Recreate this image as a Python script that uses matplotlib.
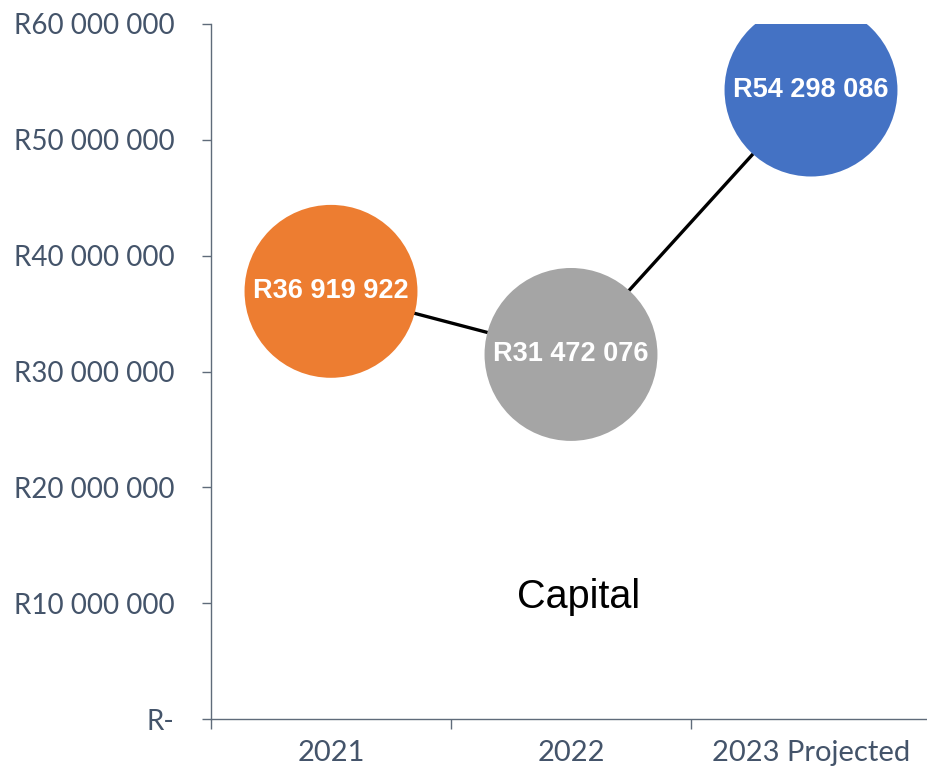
import matplotlib
matplotlib.use("Agg")
import matplotlib.pyplot as plt
from matplotlib.ticker import FuncFormatter, FixedLocator

categories = ["2021", "2022", "2023 Projected"]
values = [36919922, 31472076, 54298086]
colors = ["#ED7D31", "#A5A5A5", "#4472C4"]
y_ticks = [0, 10000000, 20000000, 30000000, 40000000, 50000000, 60000000]
title = "Capital"

TICK_COLOR = "#44546A"
AXIS_COLOR = "#5F6B7A"

fig = plt.figure(figsize=(9.28, 7.7), dpi=100)
ax = fig.add_axes([211/928, 51/770, 720/928, 695/770])

x = list(range(len(categories)))
ax.plot(x, values, color="black", lw=2.4, zorder=1, solid_capstyle="butt")
ax.scatter(x, values, s=15500, c=colors, zorder=2, linewidths=0)

for xi, v in zip(x, values):
    ax.text(xi, v, "R" + f"{v:,}".replace(",", " "), ha="center", va="center",
            color="white", fontsize=19.5, fontweight="bold",
            family=["Liberation Sans", "DejaVu Sans"], zorder=3)

ax.text(1.033, 9.6e6, title, ha="center", va="baseline", fontsize=28.5,
        family=["Liberation Sans", "DejaVu Sans"], color="black")

ax.set_xlim(-0.5, 2.5)
ax.set_ylim(0, 60000000)

def yfmt(v, pos):
    if v == 0:
        return "R-"
    return "R" + f"{int(v):,}".replace(",", " ")

ax.yaxis.set_major_locator(FixedLocator(y_ticks))
ax.yaxis.set_major_formatter(FuncFormatter(yfmt))
ax.set_xticks(x)
ax.set_xticklabels(categories)
ax.set_xticks([-0.5, 0.5, 1.5, 2.5], minor=True)

for s in ["top", "right"]:
    ax.spines[s].set_visible(False)
for s in ["left", "bottom"]:
    ax.spines[s].set_color(AXIS_COLOR)
    ax.spines[s].set_linewidth(1.0)

ax.tick_params(axis="y", length=6.5, width=1.0, color=AXIS_COLOR, pad=20,
               labelsize=20, labelcolor=TICK_COLOR)
ax.tick_params(axis="x", which="major", length=0, pad=15, labelsize=21, labelcolor=TICK_COLOR)
ax.tick_params(axis="x", which="minor", length=7.5, width=1.0, color=AXIS_COLOR)

for lab in ax.get_yticklabels() + ax.get_xticklabels():
    lab.set_family(["Lato", "DejaVu Sans"])

fig.savefig("out.png", dpi=100)
